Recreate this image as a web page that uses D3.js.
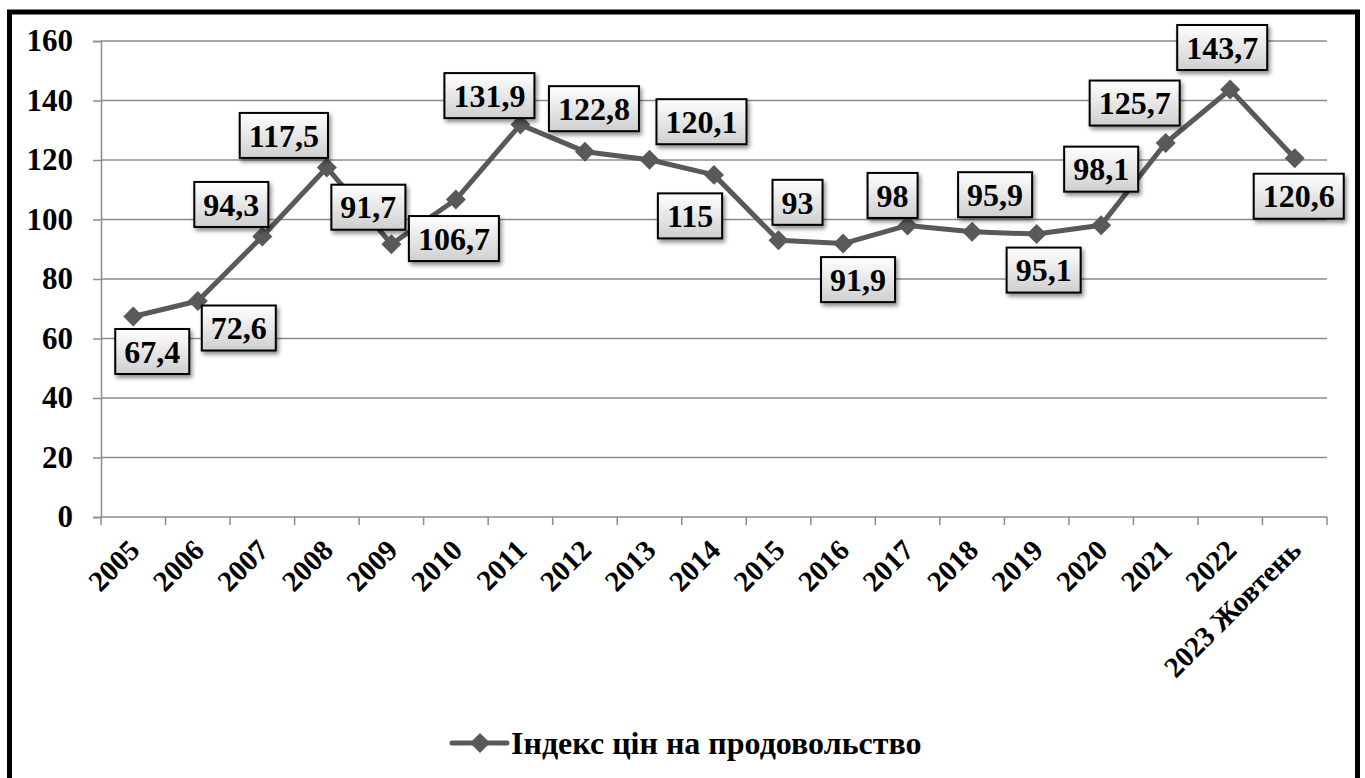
<!DOCTYPE html>
<html>
<head>
<meta charset="utf-8">
<script src="https://cdn.jsdelivr.net/npm/d3@7"></script>
<style>
  body { margin: 0; background: #fff; }
</style>
</head>
<body>
<script>
// data
var years = ["2005","2006","2007","2008","2009","2010","2011","2012","2013","2014",
             "2015","2016","2017","2018","2019","2020","2021","2022","2023 Жовтень"]
var values = [67.4, 72.6, 94.3, 117.5, 91.7, 106.7, 131.9, 122.8, 120.1, 115,
              93, 91.9, 98, 95.9, 95.1, 98.1, 125.7, 143.7, 120.6]
var yTicks = [0, 20, 40, 60, 80, 100, 120, 140, 160]
var seriesName = "Індекс цін на продовольство"

// where each value box sits relative to its point (layout only)
var labelOffsets = [[19,35],[41,27],[-31,-32],[-43,-32],[-23,-37],[-2,39],[-31,-29],[9,-43],
                    [52,-38],[-24,41],[19,-38],[15,36],[-15,-30],[23,-37],[7,36],[0,-56],
                    [-31,-40],[-8,-42],[4,38]]

var FONT = "'Liberation Serif', monospace"
var svg = d3.select("body").append("svg").attr("width", 1365).attr("height", 778)
var lineColor = "#595959"
var gridColor = "#8c8c8c"

// every text goes through this so the serif face is set right on the element
function setFont(sel, size) {
  sel.style("font-family", FONT).style("font-weight", "bold").style("font-size", size + "px")
    .attr("fill", "#000")
}

var defs = svg.append("defs")
var grad = defs.append("linearGradient").attr("id", "boxFill")
  .attr("x1", 0).attr("y1", 0).attr("x2", 0).attr("y2", 1)
grad.append("stop").attr("offset", "0%").attr("stop-color", "#ffffff")
grad.append("stop").attr("offset", "100%").attr("stop-color", "#cfcfcf")
defs.append("filter").attr("id", "shadow")
  .attr("x", "-20%").attr("y", "-20%").attr("width", "150%").attr("height", "160%")
  .append("feDropShadow").attr("dx", 2).attr("dy", 3).attr("stdDeviation", 2)
  .attr("flood-color", "#000").attr("flood-opacity", 0.45)

// outer frame
svg.append("rect").attr("x", 9.5).attr("y", 12).attr("width", 1348).attr("height", 800)
  .attr("fill", "none").attr("stroke", "#000").attr("stroke-width", 5)

var x = d3.scaleBand().domain(years).range([101, 1327]).padding(0)
var y = d3.scaleLinear().domain([0, 160]).range([517, 41])
var cx = function (d, i) { return x(years[i]) + x.bandwidth() / 2 }

// gridlines
svg.append("g")
  .selectAll("line").data(yTicks.slice(1)).enter().append("line")
  .attr("x1", 101).attr("x2", 1327)
  .attr("y1", function (d) { return y(d) }).attr("y2", function (d) { return y(d) })
  .attr("stroke", gridColor).attr("stroke-width", 1.5)

// y axis
var yAxis = svg.append("g").attr("transform", "translate(101,0)")
  .call(d3.axisLeft(y).tickValues(yTicks).tickSize(8).tickPadding(20))
yAxis.select(".domain").attr("stroke", gridColor).attr("stroke-width", 1.5)
yAxis.selectAll(".tick line").attr("stroke", gridColor).attr("stroke-width", 1.5)
setFont(yAxis.selectAll(".tick text"), 31)

// x axis: ticks between categories
var xAxis = svg.append("g")
xAxis.append("line").attr("x1", 101).attr("x2", 1327).attr("y1", 517).attr("y2", 517)
  .attr("stroke", gridColor).attr("stroke-width", 1.5)
xAxis.selectAll("line.tk").data(years.concat(["end"])).enter().append("line")
  .attr("class", "tk")
  .attr("x1", function (d) { return d === "end" ? 1327 : x(d) })
  .attr("x2", function (d) { return d === "end" ? 1327 : x(d) })
  .attr("y1", 517).attr("y2", 525)
  .attr("stroke", gridColor).attr("stroke-width", 1.5)
var xLabels = xAxis.selectAll("text").data(years).enter().append("text")
  .attr("text-anchor", "end")
  .attr("transform", function (d) {
    return "translate(" + (x(d) + x.bandwidth() / 2 + 8) + ",552) rotate(-45)"
  })
  .text(function (d) { return d })
setFont(xLabels, 29)

// series line
var line = d3.line().x(cx).y(function (d) { return y(d) })
svg.append("path").datum(values)
  .attr("d", line).attr("fill", "none")
  .attr("stroke", lineColor).attr("stroke-width", 5).attr("stroke-linejoin", "round")

var diamond = d3.symbol().type(d3.symbolSquare).size(200)
svg.append("g").selectAll("path").data(values).enter().append("path")
  .attr("d", diamond)
  .attr("transform", function (d, i) { return "translate(" + cx(d, i) + "," + y(d) + ") rotate(45)" })
  .attr("fill", lineColor)

// value labels
var fmt = function (v) { return String(v).replace(".", ",") }
var labels = svg.append("g").selectAll("g").data(values).enter().append("g")
  .attr("transform", function (d, i) {
    return "translate(" + (cx(d, i) + labelOffsets[i][0]) + "," + (y(d) + labelOffsets[i][1]) + ")"
  })
var labelText = labels.append("text")
  .attr("text-anchor", "middle").attr("dy", "0.35em")
  .text(fmt)
setFont(labelText, 32)
labels.each(function () {
  var g = d3.select(this)
  var bb = g.select("text").node().getBBox()
  var w = bb.width + 18, h = 45
  g.insert("rect", "text")
    .attr("x", -w / 2).attr("y", -h / 2).attr("width", w).attr("height", h)
    .attr("fill", "url(#boxFill)").attr("stroke", "#000").attr("stroke-width", 2)
    .attr("filter", "url(#shadow)")
})

// legend
var legend = svg.append("g").attr("transform", "translate(452,743)")
legend.append("line").attr("x1", 0).attr("x2", 55).attr("y1", 0).attr("y2", 0)
  .attr("stroke", lineColor).attr("stroke-width", 5).attr("stroke-linecap", "round")
legend.append("path").attr("d", diamond).attr("transform", "translate(28,0) rotate(45)")
  .attr("fill", lineColor)
setFont(legend.append("text").attr("x", 59).attr("dy", "0.35em").text(seriesName), 32)
</script>
</body>
</html>
